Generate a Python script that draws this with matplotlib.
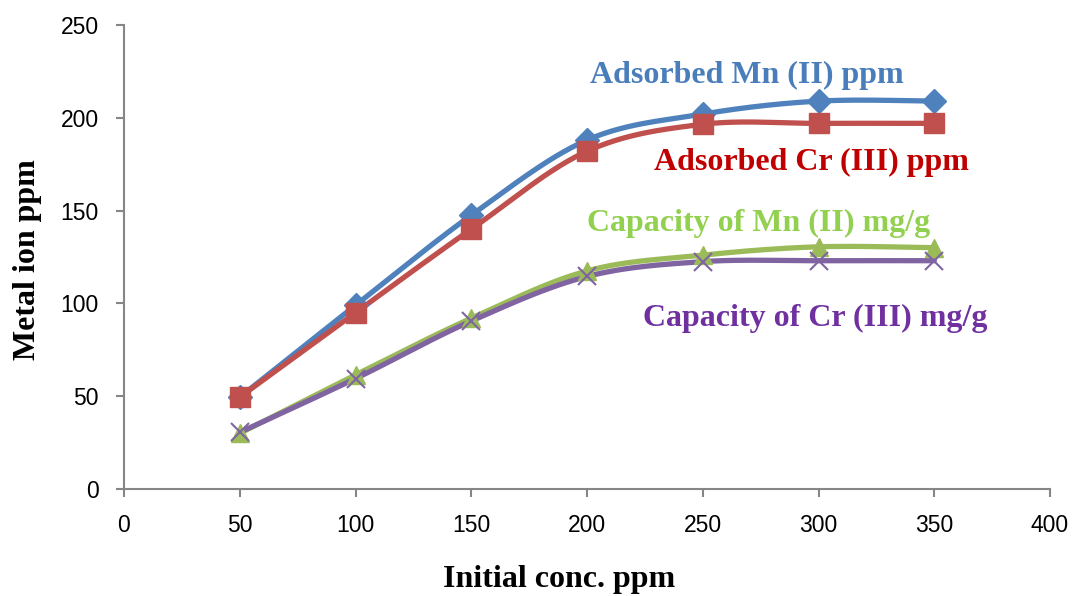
import numpy as np
import matplotlib
matplotlib.use("Agg")
import matplotlib.pyplot as plt

# Data
conc = [50, 100, 150, 200, 250, 300, 350]
ads_mn = [49.5, 99, 147.5, 188, 202, 209, 209]
ads_cr = [49.5, 95, 140, 182, 196.5, 197, 197]
cap_mn = [30, 61.5, 92, 117.5, 126, 130.5, 130]
cap_cr = [30.5, 59.5, 90.5, 114.5, 122.5, 123, 123]

labels = ["Adsorbed Mn (II) ppm", "Adsorbed Cr (III) ppm",
          "Capacity of Mn (II) mg/g", "Capacity of Cr (III) mg/g"]


def smooth(x, y, n=30):
    # Excel-like smoothed line: cubic bezier with control points from neighbours
    x = np.asarray(x, float)
    y = np.asarray(y, float)
    P = np.column_stack([x, y])
    out = [P[0]]
    t = np.linspace(0, 1, n)[1:, None]
    for i in range(len(P) - 1):
        p0 = P[i - 1] if i > 0 else P[i]
        p3 = P[i + 2] if i + 2 < len(P) else P[i + 1]
        c1 = P[i] + (P[i + 1] - p0) / 6
        c2 = P[i + 1] - (p3 - P[i]) / 6
        seg = ((1 - t) ** 3 * P[i] + 3 * (1 - t) ** 2 * t * c1
               + 3 * (1 - t) * t ** 2 * c2 + t ** 3 * P[i + 1])
        out.extend(seg)
    out = np.array(out)
    return out[:, 0], out[:, 1]


fig = plt.figure(figsize=(10.72, 5.96), dpi=100)
ax = fig.add_axes([124 / 1072, 1 - 489 / 596, 926 / 1072, 464 / 596])

series = [
    (ads_mn, "#4F81BD", "D", 12),
    (ads_cr, "#C0504D", "s", 15),
    (cap_mn, "#9BBB59", "^", 13),
    (cap_cr, "#8064A2", "x", 13),
]
for vals, col, mk, ms in series:
    sx, sy = smooth(conc, vals)
    ax.plot(sx, sy, color=col, lw=3.8, solid_capstyle="round", zorder=2)
    if mk == "x":
        ax.plot(conc, vals, ls="none", marker=mk, ms=ms, mew=1.5, color=col, zorder=3)
    else:
        ax.plot(conc, vals, ls="none", marker=mk, ms=ms, color=col, mec=col, zorder=3)

ax.set_xlim(0, 400)
ax.set_ylim(0, 250)
ax.set_xticks(range(0, 401, 50))
ax.set_yticks(range(0, 251, 50))
for s in ["top", "right"]:
    ax.spines[s].set_visible(False)
for s in ["left", "bottom"]:
    ax.spines[s].set_color("#868686")
    ax.spines[s].set_linewidth(1.5)
ax.tick_params(direction="out", length=6, width=1.5, color="#868686",
               labelsize=16.5, pad=12)
for lab in ax.get_xticklabels() + ax.get_yticklabels():
    lab.set_fontfamily("Liberation Sans")

tfont = dict(family="Liberation Serif", weight="bold", fontsize=23)
ax.text(269, 223, labels[0], color="#4A7EBB", ha="center", va="center", **tfont)
ax.text(297, 176, labels[1], color="#C00000", ha="center", va="center", **tfont)
ax.text(274, 143, labels[2], color="#92D050", ha="center", va="center", **tfont)
ax.text(298.5, 92, labels[3], color="#7030A0", ha="center", va="center", **tfont)

fig.text(559 / 1072, 1 - 580 / 596, "Initial conc. ppm", ha="center", va="center",
         family="Liberation Serif", weight="bold", fontsize=23)
fig.text(28 / 1072, 1 - 260 / 596, "Metal ion ppm", ha="center", va="center",
         rotation=90, family="Liberation Serif", weight="bold", fontsize=23)

fig.savefig("out.png", dpi=100)
